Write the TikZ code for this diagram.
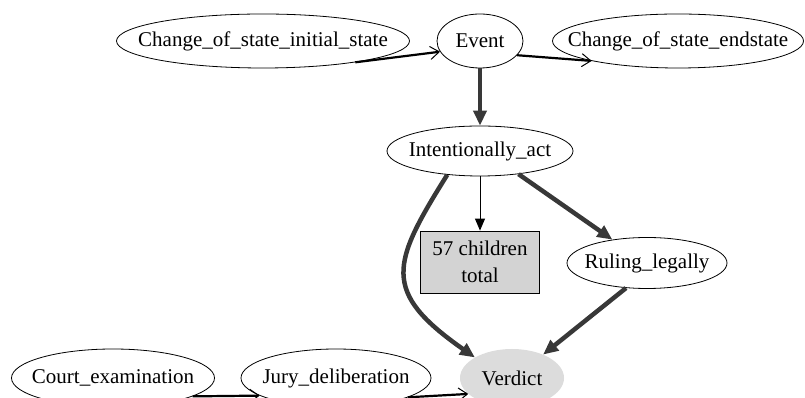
\documentclass[tikz,border=0pt]{standalone}
\usepackage{fontspec}
\setmainfont{Liberation Serif}
\usetikzlibrary{shapes.geometric,arrows.meta}

\definecolor{edgegray}{HTML}{383838}
\definecolor{boxgray}{HTML}{D3D3D3}
\definecolor{verdictgray}{HTML}{DCDCDC}

% ellipse size is set by minimum width/height only; the label is centred in a zero-width box
\newcommand{\lbl}[1]{\makebox[0pt][c]{#1}}

\tikzset{
  frame/.style={ellipse, draw=black, line width=0.8pt, inner sep=0pt,
    font=\fontsize{21}{24}\selectfont},
  hub/.style={ellipse, fill=verdictgray, inner sep=0pt,
    font=\fontsize{21}{24}\selectfont},
  childbox/.style={rectangle, draw=black, line width=0.8pt, fill=boxgray,
    minimum width=119pt, minimum height=62pt, inner sep=0pt, align=center,
    font=\fontsize{21}{27}\selectfont},
  seqedge/.style={draw=black, line width=2.2pt,
    -{Straight Barb[length=9pt,width=13pt,line width=1pt]}},
  inhedge/.style={draw=edgegray, line width=4.5pt,
    -{Triangle[length=15pt,width=13pt]}},
  subedge/.style={draw=black, line width=0.9pt,
    -{Triangle[length=12pt,width=10pt]}},
}

\begin{document}
\begin{tikzpicture}[x=1pt,y=1pt]
  \useasboundingbox (0,0) rectangle (805,398);

  % top row: event and its state frames
  \node[frame, minimum width=293pt, minimum height=54pt] (init) at (263,357) {\lbl{Change\_of\_state\_initial\_state}};
  \node[frame, minimum width=86pt,  minimum height=54pt] (event) at (480,357) {\lbl{Event}};
  \node[frame, minimum width=251pt, minimum height=54pt] (endst) at (678,357) {\lbl{Change\_of\_state\_endstate}};

  % middle
  \node[frame, minimum width=186pt, minimum height=50pt] (act) at (480,247) {\lbl{Intentionally\_act}};
  \node[childbox] (kids) at (480,136) {57 children\\total};
  \node[frame, minimum width=160pt, minimum height=51pt] (ruling) at (647,135) {\lbl{Ruling\_legally}};

  % bottom row
  \node[frame, minimum width=203pt, minimum height=58pt] (court) at (113,20) {\lbl{Court\_examination}};
  \node[frame, minimum width=190pt, minimum height=58pt] (jury) at (336,20) {\lbl{Jury\_deliberation}};
  \node[hub, minimum width=104pt, minimum height=58pt] (verdict) at (512,20) {\lbl{Verdict}};

  % sequence edges
  \draw[seqedge] (init.-13) -- (event.-165);
  \draw[seqedge] (event.-21) -- (endst.-167);
  \draw[seqedge] (court.-13) -- (jury.-167);
  \draw[seqedge] (jury.-15) -- (verdict.-160);

  % inheritance edges
  \draw[inhedge] (event.south) -- (act.north);
  \draw[inhedge] (act.-31) -- (ruling.146);
  \draw[inhedge] (ruling.-130) -- (verdict.37);
  \draw[inhedge] (act.-144) .. controls +(-122:105) and +(145:115) .. (verdict.151);

  % collapsed children
  \draw[subedge] (act.south) -- (kids.north);
\end{tikzpicture}
\end{document}
